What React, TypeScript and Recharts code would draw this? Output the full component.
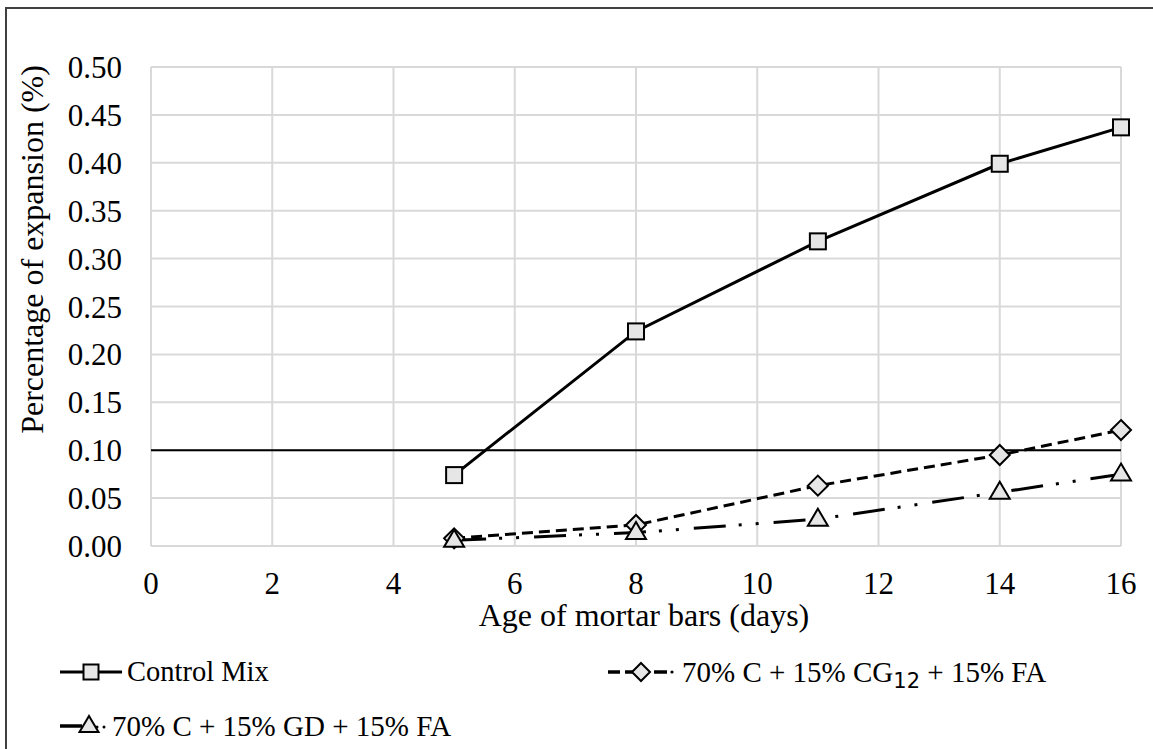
import React from "react";
import { LineChart, Line, XAxis, YAxis, CartesianGrid, ReferenceLine } from "recharts";

// Mortar bar expansion vs. age
const DAYS = [5, 8, 11, 14, 16];
const CONTROL = [0.074, 0.224, 0.318, 0.399, 0.437];
const CG12 = [0.008, 0.022, 0.063, 0.095, 0.121];
const GD = [0.006, 0.014, 0.028, 0.056, 0.075];
const X_TICKS = [0, 2, 4, 6, 8, 10, 12, 14, 16];
const Y_TICKS = [0, 0.05, 0.1, 0.15, 0.2, 0.25, 0.3, 0.35, 0.4, 0.45, 0.5];
const LIMIT = 0.1;

const FONT = "Liberation Serif";
const MARKER_FILL = "#e6e6e6";
const GRID = "#d9d9d9";

const data = DAYS.map((day, i) => ({ day, control: CONTROL[i], cg12: CG12[i], gd: GD[i] }));

function Square({ cx, cy, s = 16 }: { cx: number; cy: number; s?: number }) {
  return <rect x={cx - s / 2} y={cy - s / 2} width={s} height={s} fill={MARKER_FILL} stroke="#000" strokeWidth={2} />;
}

function Diamond({ cx, cy, r = 10 }: { cx: number; cy: number; r?: number }) {
  return (
    <polygon
      points={`${cx},${cy - r} ${cx + r},${cy} ${cx},${cy + r} ${cx - r},${cy}`}
      fill={MARKER_FILL}
      stroke="#000"
      strokeWidth={2}
    />
  );
}

function Triangle({ cx, cy, w = 20, h = 17 }: { cx: number; cy: number; w?: number; h?: number }) {
  return (
    <polygon
      points={`${cx},${cy - h * 0.62} ${cx + w / 2},${cy + h * 0.38} ${cx - w / 2},${cy + h * 0.38}`}
      fill={MARKER_FILL}
      stroke="#000"
      strokeWidth={2}
    />
  );
}

const squareDot = (p: any) => <Square key={`s${p.index}`} cx={p.cx} cy={p.cy} />;
const diamondDot = (p: any) => <Diamond key={`d${p.index}`} cx={p.cx} cy={p.cy} />;
const triangleDot = (p: any) => <Triangle key={`t${p.index}`} cx={p.cx} cy={p.cy} />;

function XTick({ x, y, payload }: any) {
  return (
    <text x={x} y={y + 21} textAnchor="middle" fontSize={31} fontFamily={FONT} fill="#000">
      {payload.value}
    </text>
  );
}

function YTick({ x, y, payload }: any) {
  return (
    <text x={x} y={y + 11} textAnchor="end" fontSize={31} fontFamily={FONT} fill="#000">
      {Number(payload.value).toFixed(2)}
    </text>
  );
}

function YTitle({ viewBox }: any) {
  const x = 32;
  const y = viewBox.y + viewBox.height / 2 - 57;
  return (
    <text x={x} y={y} transform={`rotate(-90 ${x} ${y})`} textAnchor="middle" dominantBaseline="central" fontSize={32} fontFamily={FONT} fill="#000">
      Percentage of expansion (%)
    </text>
  );
}

function XTitle({ viewBox }: any) {
  const x = viewBox.x + viewBox.width / 2 + 8;
  return (
    <text x={x} y={626} textAnchor="middle" fontSize={32} fontFamily={FONT} fill="#000">
      Age of mortar bars (days)
    </text>
  );
}

const legendText: React.CSSProperties = {
  position: "absolute",
  fontFamily: FONT,
  fontSize: 29,
  lineHeight: "32px",
  color: "#000",
  whiteSpace: "nowrap",
};

function ChartLegend() {
  return (
    <>
      <svg style={{ position: "absolute", left: 60, top: 660 }} width={64} height={24}>
        <line x1={0} y1={12} x2={62} y2={12} stroke="#000" strokeWidth={3} />
        <Square cx={31} cy={12} s={15} />
      </svg>
      <div style={{ ...legendText, fontSize: 28.5, left: 127, top: 656 }}>Control Mix</div>

      <svg style={{ position: "absolute", left: 607, top: 660 }} width={70} height={24}>
        <line x1={1} y1={12} x2={13} y2={12} stroke="#000" strokeWidth={3.5} />
        <line x1={18} y1={12} x2={27} y2={12} stroke="#000" strokeWidth={3.5} />
        <line x1={47} y1={12} x2={60} y2={12} stroke="#000" strokeWidth={3.5} />
        <circle cx={65} cy={12} r={1.6} fill="#000" />
        <Diamond cx={34} cy={12} r={9} />
      </svg>
      <div style={{ ...legendText, left: 682, top: 656 }}>
        70% C + 15% CG
        <sub style={{ fontFamily: "DejaVu Sans", fontSize: 21, verticalAlign: "-6px" }}>12</sub> + 15% FA
      </div>

      <svg style={{ position: "absolute", left: 60, top: 713 }} width={52} height={26}>
        <line x1={0} y1={13} x2={22} y2={13} stroke="#000" strokeWidth={3.5} />
        <Triangle cx={29} cy={13} w={19} h={16} />
        <circle cx={37} cy={14} r={1.5} fill="#000" />
        <circle cx={44} cy={14} r={1.5} fill="#000" />
      </svg>
      <div style={{ ...legendText, left: 112, top: 710 }}>70% C + 15% GD + 15% FA</div>
    </>
  );
}

export default function App() {
  return (
    <div style={{ position: "absolute", left: 0, top: 0, width: 1153, height: 749, background: "#fff", overflow: "hidden", fontFamily: FONT }}>
      <div style={{ position: "absolute", left: 5, top: 7, width: 1200, height: 800, borderLeft: "2px solid #404040", borderTop: "2px solid #404040" }} />
      <LineChart width={1153} height={749} data={data} margin={{ top: 67, right: 32, bottom: 0, left: 0 }}>
        <CartesianGrid stroke={GRID} strokeWidth={2} />
        <XAxis
          dataKey="day"
          type="number"
          domain={[0, 16]}
          ticks={X_TICKS}
          height={203}
          tickLine={false}
          axisLine={false}
          tickSize={0}
          tickMargin={27}
          tick={<XTick />}
          label={<XTitle />}
        />
        <YAxis
          type="number"
          domain={[0, 0.5]}
          ticks={Y_TICKS}
          width={151}
          tickLine={false}
          axisLine={false}
          tickSize={0}
          tickMargin={29}
          tick={<YTick />}
          label={<YTitle />}
        />
        <ReferenceLine y={LIMIT} stroke="#000" strokeWidth={2} />
        <Line dataKey="control" stroke="#000" strokeWidth={3} dot={squareDot} isAnimationActive={false} />
        <Line dataKey="cg12" stroke="#000" strokeWidth={3} strokeDasharray="11 6" dot={diamondDot} isAnimationActive={false} />
        <Line dataKey="gd" stroke="#000" strokeWidth={3} strokeDasharray="32 13 3 14 3 15" dot={triangleDot} isAnimationActive={false} />
      </LineChart>
      <ChartLegend />
    </div>
  );
}
